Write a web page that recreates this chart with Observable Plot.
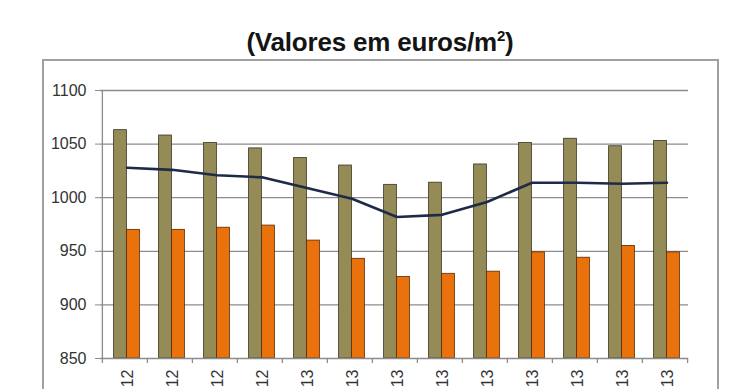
<!DOCTYPE html>
<html>
<head>
<meta charset="utf-8">
<script src="https://cdn.jsdelivr.net/npm/d3@7"></script>
<script src="https://cdn.jsdelivr.net/npm/@observablehq/plot@0.6"></script>
<style>
  html, body { margin: 0; padding: 0; background: #fff; overflow: hidden; }
  #wrap { position: relative; width: 740px; height: 389px; overflow: hidden; }
  #frame { position: absolute; left: 42px; top: 59px; width: 677px; height: 400px; border: 2px solid #a0a0a0; box-sizing: border-box; }
  #title { position: absolute; left: 0; width: 760px; top: 27px; text-align: center; font-family: "Liberation Sans", Arial, sans-serif; font-weight: bold; font-size: 26px; line-height: 30px; color: #141414; letter-spacing: -0.2px; }
  #title sup { font-size: 15px; line-height: 0; vertical-align: 10px; }
  #chart { position: absolute; left: 0; top: 0; }
</style>
</head>
<body>
<div id="wrap">
  <div id="frame"></div>
  <div id="chart"></div>
  <div id="title">(Valores em euros/m<sup>2</sup>)</div>
</div>
<script>
// 13 monthly periods; the reference only shows the year part of each label
const periods = [0,1,2,3,4,5,6,7,8,9,10,11,12];
const tickLabels = ["12","12","12","12","13","13","13","13","13","13","13","13","13"];
const seriesOlive = [1063,1058,1051,1046,1037,1030,1012,1014,1031,1051,1055,1048,1053];
const seriesOrange = [970,970,972,974,960,943,926,929,931,949,944,955,949];
const seriesLine = [1028,1026,1021,1019,1009,999,982,984,996,1014,1014,1013,1014];
const yTicks = [850,900,950,1000,1050,1100];

const rows = periods.map((p, i) => ({p, olive: seriesOlive[i], orange: seriesOrange[i], line: seriesLine[i]}));

const W = 740, mL = 100, mR = 52;
const half = (W - mL - mR) / periods.length / 2;
const barW = 13;
const grid = "#8c8c8c";

const plot = Plot.plot({
  width: W,
  height: 420,
  marginLeft: mL,
  marginRight: mR,
  marginTop: 90,
  marginBottom: 62,
  style: {fontFamily: "'Liberation Sans', Arial, sans-serif", fontSize: "16px", color: "#333", background: "transparent"},
  x: {domain: periods, padding: 0, label: null},
  y: {domain: [850, 1100], label: null},
  marks: [
    Plot.ruleY(yTicks.slice(1), {stroke: grid, strokeWidth: 1.3}),
    Plot.barY(rows, {x: "p", y1: 850, y2: "olive", fill: "#958b57", stroke: "#3a3320", strokeWidth: 0.8, insetLeft: half - barW + 2, insetRight: half - 2}),
    Plot.barY(rows, {x: "p", y1: 850, y2: "orange", fill: "#e9720c", stroke: "#5a2a00", strokeWidth: 0.8, insetLeft: half + 2, insetRight: half - barW - 2}),
    Plot.lineY(rows, {x: "p", y: "line", stroke: "#1d2a48", strokeWidth: 2.6, dx: 2}),
    Plot.ruleY([850], {stroke: grid, strokeWidth: 1.3}),
    Plot.ruleX([periods[0]], {x: d => d, y1: 850, y2: 1100, dx: -half, stroke: grid, strokeWidth: 1.3}),
    Plot.ruleX(periods, {x: d => d, y1: 850, y2: 845.3, dx: -half, stroke: grid, strokeWidth: 1.3}),
    Plot.ruleX([periods[periods.length - 1]], {x: d => d, y1: 850, y2: 845.3, dx: half, stroke: grid, strokeWidth: 1.3}),
    Plot.axisY({ticks: yTicks, tickSize: 5, tickPadding: 9, stroke: grid, tickFormat: d => String(d)}),
    Plot.axisX({tickSize: 0, tickRotate: -90, tickPadding: 11, dx: 3, tickFormat: (d, i) => tickLabels[i]})
  ]
});
document.getElementById("chart").appendChild(plot);
</script>
</body>
</html>
